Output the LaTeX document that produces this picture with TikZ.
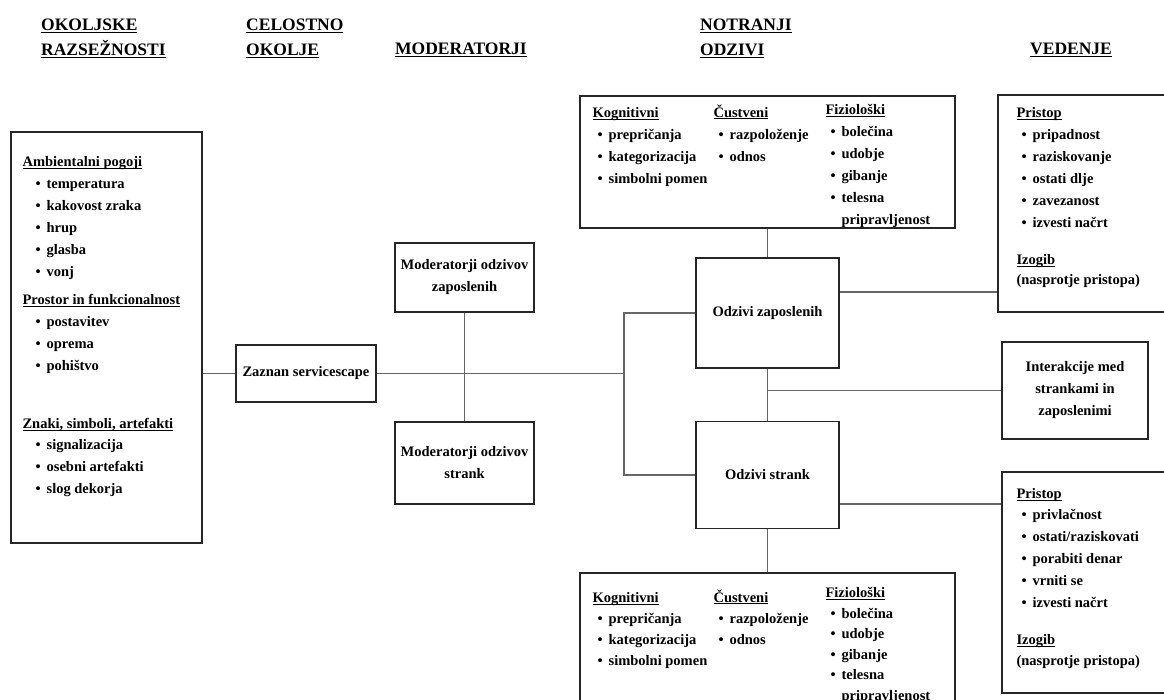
\documentclass[tikz,border=0pt]{standalone}
\usepackage{fontspec}
\setmainfont{Liberation Serif}
\usepackage{tikz}
\usetikzlibrary{positioning}
\newsavebox{\undlbox}
\newcommand{\undl}[1]{\sbox{\undlbox}{#1}\rlap{\rule[-2.2pt]{\wd\undlbox}{0.9pt}}\usebox{\undlbox}}
\newcommand{\itm}[2][5pt]{\hspace*{#1}\textbullet\hspace{6pt}#2}
\newcommand{\itmcont}[2][5pt]{\hspace*{#1}\phantom{\textbullet}\hspace{6pt}#2}
\newcommand{\bodyfont}{\fontsize{14.5}{22}\selectfont\bfseries}
\newcommand{\tightfont}{\fontsize{14.5}{21}\selectfont\bfseries}
\newcommand{\headfont}{\fontsize{17.5}{25}\selectfont\bfseries}
\tikzset{
  panel/.style={draw=black!85, line width=1.3pt, fill=white, inner sep=0pt},
  labelbox/.style={panel, align=center, font=\bodyfont},
  list/.style={align=left, inner sep=0pt, font=\bodyfont, anchor=north west},
  tightlist/.style={list, font=\tightfont},
  heading/.style={align=left, inner sep=0pt, font=\headfont, anchor=north west},
  link/.style={draw=black!60, line width=1.2pt},
}
\begin{document}
\begin{tikzpicture}[x=1pt, y=-1pt]
  \useasboundingbox (0,0) rectangle (1164,700);

  % column headings
  \node[heading] (hdenv) at (41,18.5) {\undl{OKOLJSKE}\\\undl{RAZSEŽNOSTI}};
  \node[heading] (hdcel) at (246,18.5) {\undl{CELOSTNO}\\\undl{OKOLJE}};
  \node[heading, anchor=base west] (hdmod) at (395,55) {\undl{MODERATORJI}};
  \node[heading] (hdodz) at (700,18.5) {\undl{NOTRANJI}\\\undl{ODZIVI}};
  \node[heading, anchor=base west] (hdved) at (1030,55) {\undl{VEDENJE}};

  % environmental dimensions
  \node[panel, minimum width=191pt, minimum height=411pt] (env) at (106.5,337.5) {};
  \node[list, below right=25pt and 12pt of env.north west] (envtxt) {%
    \undl{Ambientalni pogoji}\\
    \itm[13pt]{temperatura}\\
    \itm[13pt]{kakovost zraka}\\
    \itm[13pt]{hrup}\\
    \itm[13pt]{glasba}\\
    \itm[13pt]{vonj}\\[6pt]
    \undl{Prostor in funkcionalnost}\\
    \itm[13pt]{postavitev}\\
    \itm[13pt]{oprema}\\
    \itm[13pt]{pohištvo}\\[36pt]
    \undl{Znaki, simboli, artefakti}\\[-1pt]
    \itm[13pt]{signalizacija}\\
    \itm[13pt]{osebni artefakti}\\
    \itm[13pt]{slog dekorja}};

  % holistic environment and moderators
  \node[labelbox, minimum width=140pt, minimum height=57pt] (zaz) at (306,373.5)
    {Zaznan servicescape};
  \node[labelbox, minimum width=139pt, minimum height=69pt] (modz) at (464.5,277.5)
    {Moderatorji odzivov\\zaposlenih};
  \node[labelbox, minimum width=139pt, minimum height=82pt] (mods) at (464.5,463)
    {Moderatorji odzivov\\strank};

  % internal responses
  \node[labelbox, minimum width=143pt, minimum height=110pt] (oz) at (767.5,313)
    {Odzivi zaposlenih};
  \node[labelbox, minimum width=143pt, minimum height=107pt] (os) at (767.5,475)
    {Odzivi strank};

  \node[panel, minimum width=375pt, minimum height=132pt] (ozcog) at (767.5,162) {};
  \node[list, below right=12pt and 13pt of ozcog.north west] (ozkog) {%
    \undl{Kognitivni}\\
    \itm{prepričanja}\\
    \itm{kategorizacija}\\
    \itm{simbolni pomen}};
  \node[list, below right=9pt and 134pt of ozcog.north west] (ozcus) {%
    \undl{Čustveni}\\
    \itm{razpoloženje}\\
    \itm{odnos}};
  \node[list, below right=9pt and 246pt of ozcog.north west] (ozfiz) {%
    \undl{Fiziološki}\\
    \itm{bolečina}\\
    \itm{udobje}\\
    \itm{gibanje}\\
    \itm{telesna}\\
    \itmcont{pripravljenost}};

  \node[panel, minimum width=375pt, minimum height=140pt] (oscog) at (767.5,643) {};
  \node[tightlist, below right=20pt and 13pt of oscog.north west] (oskog) {%
    \undl{Kognitivni}\\
    \itm{prepričanja}\\
    \itm{kategorizacija}\\
    \itm{simbolni pomen}};
  \node[tightlist, below right=17pt and 134pt of oscog.north west] (oscus) {%
    \undl{Čustveni}\\
    \itm{razpoloženje}\\
    \itm{odnos}};
  \node[tightlist, below right=15pt and 246pt of oscog.north west] (osfiz) {%
    \undl{Fiziološki}\\[-0.5pt]
    \itm{bolečina}\\[-0.5pt]
    \itm{udobje}\\[-0.5pt]
    \itm{gibanje}\\[-0.5pt]
    \itm{telesna}\\[-0.5pt]
    \itmcont{pripravljenost}};

  % behaviour
  \node[panel, minimum width=174pt, minimum height=217pt] (ozbeh) at (1085,203.5) {};
  \node[list, below right=13pt and 19pt of ozbeh.north west] (ozbehtxt) {%
    \undl{Pristop}\\
    \itm{pripadnost}\\
    \itm{raziskovanje}\\
    \itm{ostati dlje}\\
    \itm{zavezanost}\\
    \itm{izvesti načrt}\\[15pt]
    \undl{Izogib}\\[-2pt]
    (nasprotje pristopa)};

  \node[labelbox, minimum width=146pt, minimum height=97pt] (inter) at (1075,390.5)
    {Interakcije med\\strankami in\\zaposlenimi};

  \node[panel, minimum width=170pt, minimum height=221pt] (osbeh) at (1087,582.5) {};
  \node[list, below right=17pt and 15pt of osbeh.north west] (osbehtxt) {%
    \undl{Pristop}\\[-1pt]
    \itm{privlačnost}\\
    \itm{ostati/raziskovati}\\
    \itm{porabiti denar}\\
    \itm{vrniti se}\\
    \itm{izvesti načrt}\\[15pt]
    \undl{Izogib}\\[-1pt]
    (nasprotje pristopa)};

  % connectors
  \coordinate (jn) at (624,374);
  \draw[link] (env.east |- zaz.west) -- (zaz.west);
  \draw[link] (zaz.east) -- (zaz.east -| jn);
  \draw[link] (modz.south) -- (mods.north);
  \draw[link] (oz.west) -| (jn) |- (os.west);
  \draw[link] (ozcog.south) -- (oz.north);
  \draw[link] (oz.south) -- (os.north);
  \draw[link] (os.south) -- (oscog.north);
  \draw[link] (inter.west) -- (inter.west -| oz.south);
  \draw[link] ([yshift=21pt]oz.east) -- ([yshift=21pt]oz.east -| ozbeh.west);
  \draw[link] ([yshift=-29pt]os.east) -- ([yshift=-29pt]os.east -| osbeh.west);
\end{tikzpicture}
\end{document}
